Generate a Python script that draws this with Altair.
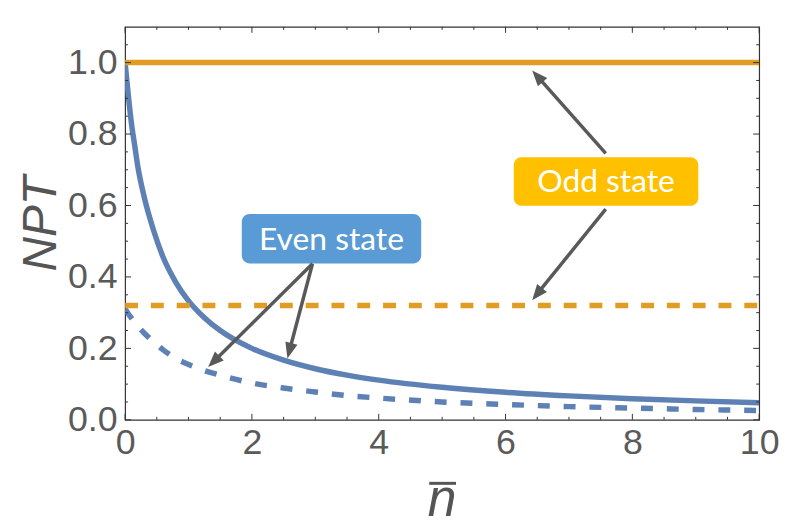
import math
import altair as alt
import pandas as pd

# ---- data ----
n_bar = [0, 0.05, 0.1, 0.15, 0.2, 0.3, 0.45, 0.6, 0.8, 1.0, 1.25, 1.5, 2, 2.5, 3, 3.5, 4, 5, 6, 7, 8, 9, 10]
even_solid = [1.0, 0.91, 0.83, 0.77, 0.71, 0.625, 0.53, 0.455, 0.385, 0.333, 0.286, 0.25, 0.20, 0.167,
              0.143, 0.125, 0.111, 0.091, 0.077, 0.067, 0.059, 0.053, 0.048]
even_dashed = [0.31, 0.297, 0.285, 0.273, 0.262, 0.243, 0.218, 0.196, 0.172, 0.155, 0.138, 0.125, 0.103,
               0.089, 0.078, 0.068, 0.061, 0.050, 0.043, 0.037, 0.033, 0.029, 0.026]
odd_n = [0, 10]
odd_solid = [1.0, 1.0]
odd_dashed = [0.32, 0.32]

x_major = [0, 2, 4, 6, 8, 10]
x_minor = [0.5, 1, 1.5, 2.5, 3, 3.5, 4.5, 5, 5.5, 6.5, 7, 7.5, 8.5, 9, 9.5]
y_major = [0, 0.2, 0.4, 0.6, 0.8, 1.0]
y_minor = [0.05, 0.1, 0.15, 0.25, 0.3, 0.35, 0.45, 0.5, 0.55, 0.65, 0.7, 0.75, 0.85, 0.9, 0.95, 1.05]

box_labels = ["Even state", "Odd state"]
box_x0 = [1.84, 6.13]
box_x1 = [4.67, 9.04]
box_y0 = [0.4375, 0.599]
box_y1 = [0.5765, 0.735]
box_colors = ["#5B9BD5", "#FFC000"]

arrow_x0 = [2.955, 2.955, 7.58, 7.58]
arrow_y0 = [0.437, 0.437, 0.746, 0.59]
arrow_x1 = [1.31, 2.56, 6.42, 6.42]
arrow_y1 = [0.148, 0.172, 0.978, 0.335]

x_title = ["n"]
y_title = "NPT"

# ---- style ----
W, H = 639, 396
XMAX, YMAX = 10, 1.1
PX_X, PX_Y = W / XMAX, H / YMAX
BLUE = "#5E81B5"
ORANGE = "#E19C24"
FRAME = "#333333"
ARROW = "#595959"
LABEL = "#5a5a5a"
TITLE = "#555555"

xs = alt.Scale(domain=[0, XMAX], nice=False, zero=False)
ys = alt.Scale(domain=[0, YMAX], nice=False, zero=False)

df_even = pd.DataFrame({"n": n_bar, "solid": even_solid, "dashed": even_dashed})
df_odd = pd.DataFrame({"n": odd_n, "solid": odd_solid, "dashed": odd_dashed})

xaxis = alt.Axis(values=x_major, labelFont="Liberation Sans", labelFontSize=36, labelColor=LABEL,
                 ticks=False, domain=False, grid=False, labelPadding=6, labelFlush=False)
yaxis = alt.Axis(values=y_major, format=".1f", labelFont="Liberation Sans", labelFontSize=36,
                 labelColor=LABEL, ticks=False, domain=False, grid=False, labelPadding=8,
                 titleFont="Liberation Sans", titleFontStyle="italic", titleFontSize=48,
                 titleFontWeight="normal", titleColor=TITLE, titlePadding=2)


def X(field):
    return alt.X(field, scale=xs, axis=xaxis, title=None)


def Y(field):
    return alt.Y(field, scale=ys, axis=yaxis, title=y_title)


blue_solid = alt.Chart(df_even).mark_line(color=BLUE, strokeWidth=5.5, interpolate="monotone", clip=True).encode(
    x=X("n:Q"), y=Y("solid:Q"))
blue_dashed = alt.Chart(df_even).mark_line(color=BLUE, strokeWidth=5.5, interpolate="monotone",
                                           strokeDash=[12, 14], clip=True).encode(
    x=X("n:Q"), y=Y("dashed:Q"))
orange_solid = alt.Chart(df_odd).mark_line(color=ORANGE, strokeWidth=5.5, clip=True).encode(
    x=X("n:Q"), y=Y("solid:Q"))
orange_dashed = alt.Chart(df_odd).mark_line(color=ORANGE, strokeWidth=5.5, strokeDash=[13, 13], clip=True).encode(
    x=X("n:Q"), y=Y("dashed:Q"))


# inward ticks on all four sides
def xticks(vals, length):
    d = pd.DataFrame({"v": vals})
    bottom = alt.Chart(d).mark_rule(color=FRAME, strokeWidth=1, y2Offset=-length).encode(
        x=X("v:Q"), y=alt.datum(0, scale=ys, axis=yaxis, title=y_title), y2=alt.datum(0))
    top = alt.Chart(d).mark_rule(color=FRAME, strokeWidth=1, y2Offset=length).encode(
        x=X("v:Q"), y=alt.datum(YMAX, scale=ys, axis=yaxis, title=y_title), y2=alt.datum(YMAX))
    return [bottom, top]


def yticks(vals, length):
    d = pd.DataFrame({"v": vals})
    left = alt.Chart(d).mark_rule(color=FRAME, strokeWidth=1, x2Offset=length).encode(
        y=Y("v:Q"), x=alt.datum(0, scale=xs, axis=xaxis, title=None), x2=alt.datum(0))
    right = alt.Chart(d).mark_rule(color=FRAME, strokeWidth=1, x2Offset=-length).encode(
        y=Y("v:Q"), x=alt.datum(XMAX, scale=xs, axis=xaxis, title=None), x2=alt.datum(XMAX))
    return [left, right]


tick_layers = xticks(x_major, 6) + xticks(x_minor, 3) + yticks(y_major, 6) + yticks(y_minor, 3)

# x-axis title: italic n with an overbar, centred under the plot
df_title = pd.DataFrame({"t": x_title, "x": [XMAX / 2], "y": [0]})
title_n = alt.Chart(df_title).mark_text(font="Liberation Sans", fontStyle="italic", fontSize=52,
                                        color=TITLE, align="center", baseline="alphabetic", dy=97).encode(
    x=X("x:Q"), y=Y("y:Q"), text="t:N")
title_bar = alt.Chart(df_title).mark_rule(color=TITLE, strokeWidth=3, xOffset=-13, x2Offset=14,
                                          yOffset=64, y2Offset=64).encode(
    x=X("x:Q"), x2="x:Q", y=Y("y:Q"), y2="y:Q")

# annotation boxes
df_box = pd.DataFrame({"label": box_labels, "x0": box_x0, "x1": box_x1, "y0": box_y0, "y1": box_y1,
                       "color": box_colors})
df_box["xc"] = (df_box.x0 + df_box.x1) / 2
df_box["yc"] = (df_box.y0 + df_box.y1) / 2
boxes = alt.Chart(df_box).mark_rect(cornerRadius=8).encode(
    x=X("x0:Q"), x2="x1:Q",
    y=Y("y0:Q"), y2="y1:Q",
    color=alt.Color("color:N", scale=None),
)
box_text = alt.Chart(df_box).mark_text(font="Lato", fontSize=32, color="white", baseline="middle",
                                       align="center", dy=1).encode(
    x=X("xc:Q"), y=Y("yc:Q"), text="label:N")

# arrows
rows = []
for a, b, c, d in zip(arrow_x0, arrow_y0, arrow_x1, arrow_y1):
    dx = (c - a) * PX_X
    dy = -(d - b) * PX_Y
    L = math.hypot(dx, dy)
    ang = math.degrees(math.atan2(dx, -dy)) % 360
    back = 9.0 / L
    rows.append({"x0": a, "y0": b, "x1": c, "y1": d,
                 "xs": c - (c - a) * back, "ys": d - (d - b) * back, "ang": ang})
df_arr = pd.DataFrame(rows)
shafts = alt.Chart(df_arr).mark_rule(color=ARROW, strokeWidth=3.5).encode(
    x=X("x0:Q"), y=Y("y0:Q"), x2="xs:Q", y2="ys:Q")
heads = alt.Chart(df_arr).mark_point(shape="M0,0L0.8,2L-0.8,2Z", filled=True, color=ARROW, opacity=1,
                                     size=250, strokeWidth=0).encode(
    x=X("x1:Q"), y=Y("y1:Q"),
    angle=alt.Angle("ang:Q", scale=None))

chart = alt.layer(
    blue_solid, blue_dashed, orange_solid, orange_dashed, *tick_layers,
    title_n, title_bar, boxes, box_text, shafts, heads
).properties(
    width=W, height=H,
    autosize=alt.AutoSizeParams(type="none"),
    padding={"left": 118, "top": 17, "right": 22, "bottom": 108},
    background="white",
).configure_view(stroke=FRAME, strokeWidth=1.2)

chart.save("out.html", embed_options={"renderer": "svg", "actions": False})
